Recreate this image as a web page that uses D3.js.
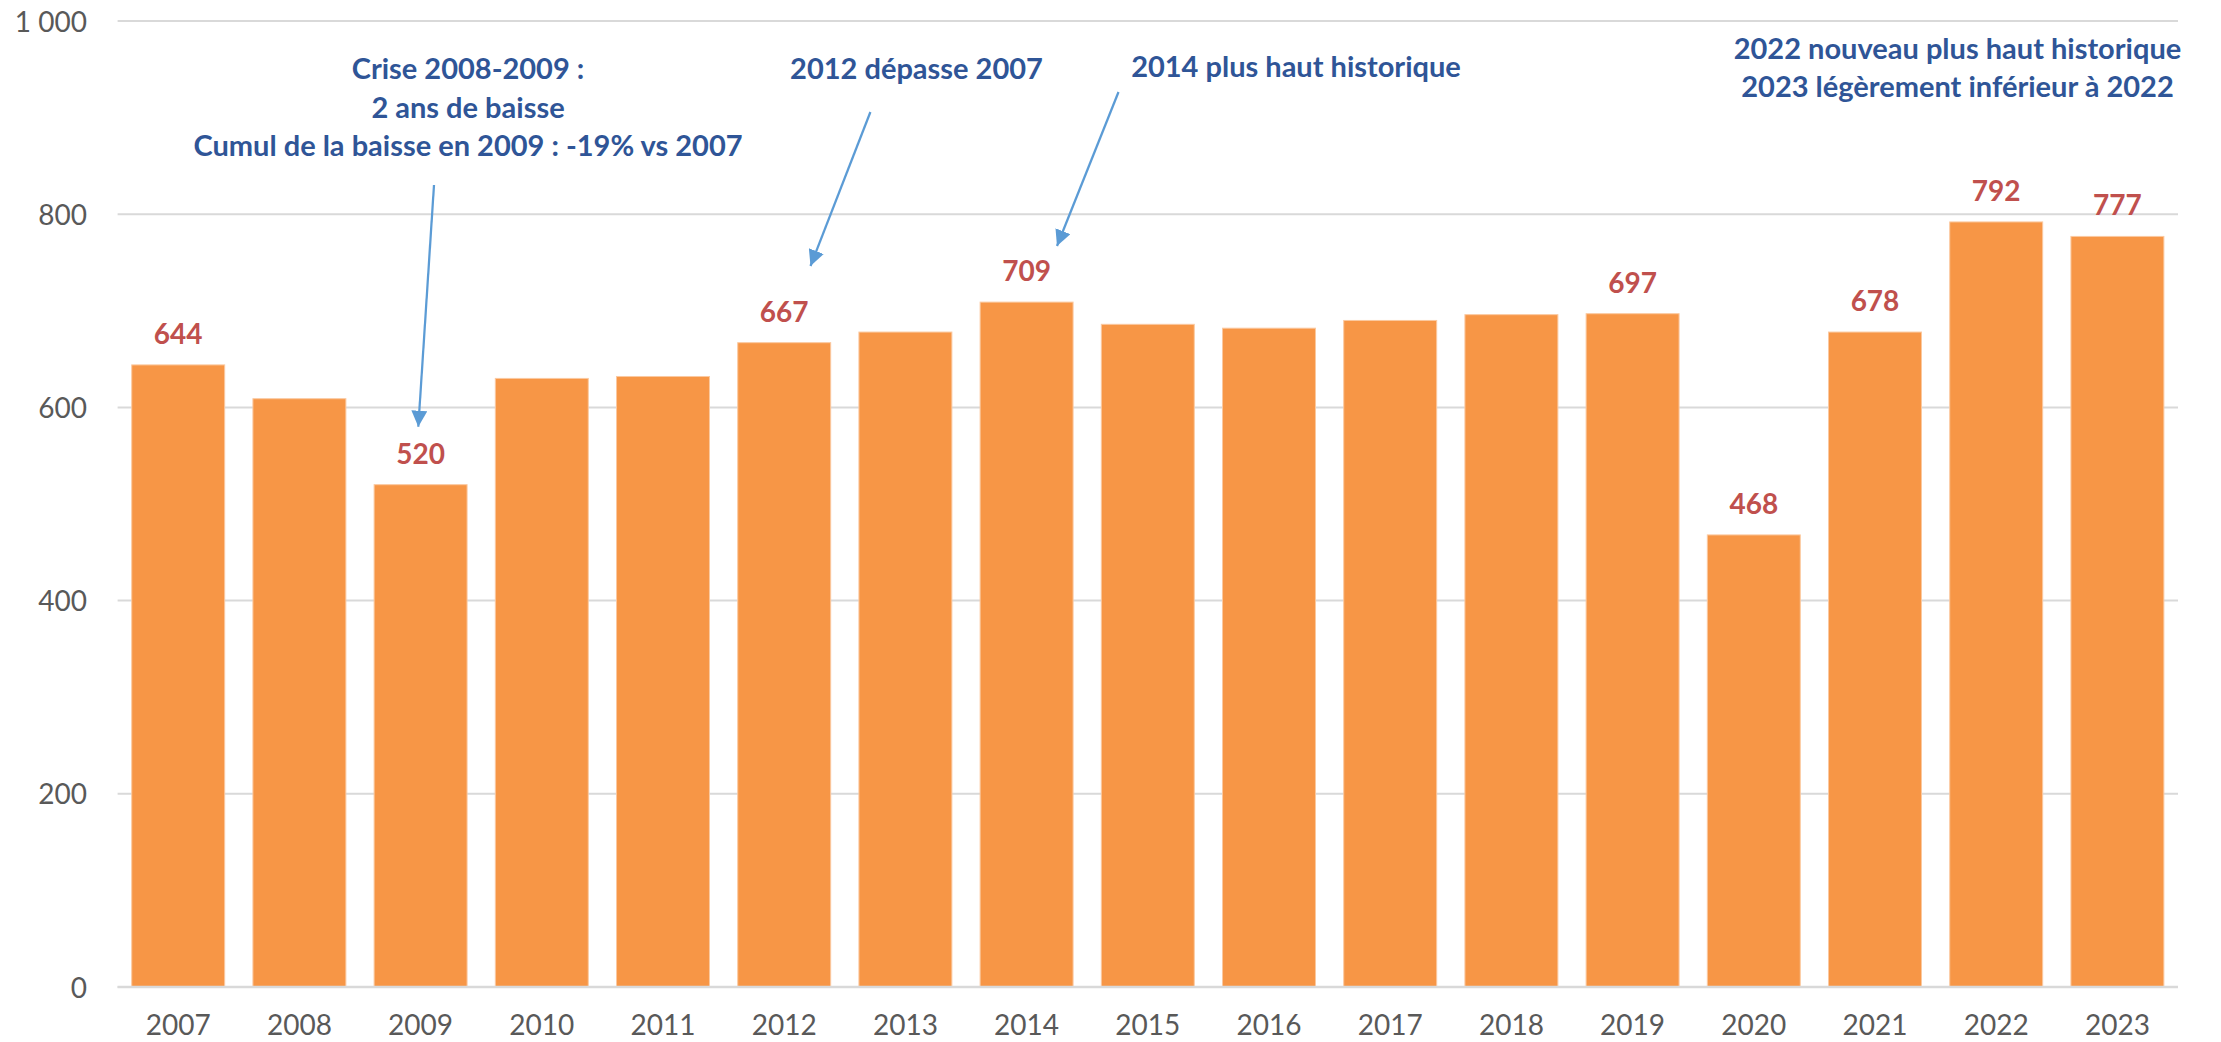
<!DOCTYPE html>
<html>
<head>
<meta charset="utf-8">
<script src="https://cdn.jsdelivr.net/npm/d3@7"></script>
<style>
  html, body { margin: 0; padding: 0; background: #fff; }
  svg { display: block; }
  text { font-family: Lato, Carlito, "Noto Sans", sans-serif; }
</style>
</head>
<body>
<svg id="chart" width="2221" height="1042"></svg>
<script>
// ---- Data ----
const years = ["2007","2008","2009","2010","2011","2012","2013","2014","2015","2016","2017","2018","2019","2020","2021","2022","2023"];
const values = [644, 609, 520, 630, 632, 667, 678, 709, 686, 682, 690, 696, 697, 468, 678, 792, 777];
const labelledYears = ["2007","2009","2012","2014","2019","2020","2021","2022","2023"];
const yTicks = [0, 200, 400, 600, 800, 1000];
const yTickLabels = ["0", "200", "400", "600", "800", "1 000"];

const noteCrise = ["Crise 2008-2009 :", "2 ans de baisse", "Cumul de la baisse en 2009 : -19% vs 2007"];
const note2012 = ["2012 dépasse 2007"];
const note2014 = ["2014 plus haut historique"];
const note2022 = ["2022 nouveau plus haut historique", "2023 légèrement inférieur à 2022"];

(function () {
// ---- Layout ----
const svg = d3.select("#chart");
const mLeft = 117.6, mRight = 2178, mTop = 21, mBottom = 987;

const x = d3.scaleBand().domain(years).range([mLeft, mRight]).paddingInner(0.233).paddingOuter(0.1165);
const y = d3.scaleLinear().domain([0, 1000]).range([mBottom, mTop]);

const colBar = "#F79646", colLabel = "#C0504D", colTick = "#595959",
      colGrid = "#D9D9D9", colNote = "#2F5597", colArrow = "#5B9BD5";

// gridlines
svg.append("g").selectAll("line").data(yTicks).join("line")
  .attr("x1", mLeft).attr("x2", mRight)
  .attr("y1", d => y(d)).attr("y2", d => y(d))
  .attr("stroke", colGrid).attr("stroke-width", 2);

// y axis labels
const yAxis = d3.axisLeft(y).tickValues(yTicks)
  .tickFormat((d, i) => yTickLabels[i]).tickSize(0).tickPadding(0);
const gy = svg.append("g").attr("transform", "translate(87,0)").call(yAxis);
gy.select(".domain").remove();
gy.selectAll("text").attr("fill", colTick).style("font-size", "28px")
  .style("font-family", "Lato, Carlito, sans-serif").attr("dy", "0.36em");

// bars
svg.append("g").selectAll("rect").data(values).join("rect")
  .attr("x", (d, i) => x(years[i]))
  .attr("width", x.bandwidth())
  .attr("y", d => y(d))
  .attr("height", d => y(0) - y(d))
  .attr("fill", colBar)
  .attr("stroke", "#FBC9A0").attr("stroke-width", 1);

// baseline
svg.append("line").attr("x1", mLeft).attr("x2", mRight)
  .attr("y1", y(0)).attr("y2", y(0))
  .attr("stroke", colGrid).attr("stroke-width", 2.5);

// x axis labels
const xAxis = d3.axisBottom(x).tickSize(0).tickPadding(0);
const gx = svg.append("g").attr("transform", "translate(0,1035)").call(xAxis);
gx.select(".domain").remove();
gx.selectAll("text").attr("fill", colTick).style("font-size", "28px")
  .style("font-family", "Lato, Carlito, sans-serif").attr("dy", "0").attr("y", 0);

// data labels
svg.append("g").selectAll("text")
  .data(values.map((v, i) => ({ v, yr: years[i] })).filter(d => labelledYears.includes(d.yr)))
  .join("text")
  .attr("x", d => x(d.yr) + x.bandwidth() / 2)
  .attr("y", d => y(d.v) - 21)
  .attr("text-anchor", "middle")
  .attr("fill", colLabel)
  .style("font-size", "28px").style("font-weight", "bold")
  .text(d => d.v);

// annotations
function note(lines, cx, baseline) {
  const t = svg.append("text").attr("text-anchor", "middle")
    .attr("fill", colNote).style("font-size", "29px").style("font-weight", "bold");
  lines.forEach((l, i) => t.append("tspan").attr("x", cx).attr("y", baseline + i * 38.5).text(l));
}
note(noteCrise, 468, 79);
note(note2012, 916.5, 78.5);
note(note2014, 1296, 77);
note(note2022, 1957.5, 58.5);

// arrows
const defs = svg.append("defs");
defs.append("marker").attr("id", "ah")
  .attr("markerUnits", "userSpaceOnUse")
  .attr("viewBox", "0 0 16 16").attr("refX", 16).attr("refY", 8)
  .attr("markerWidth", 16).attr("markerHeight", 16).attr("orient", "auto")
  .append("path").attr("d", "M0,0 L16,8 L0,16 Z").attr("fill", colArrow);

const arrows = [
  { x1: 434, y1: 185, x2: 418.3, y2: 426.7 },
  { x1: 870.4, y1: 112, x2: 810.5, y2: 266 },
  { x1: 1118.5, y1: 92, x2: 1057, y2: 246 }
];
svg.append("g").selectAll("line").data(arrows).join("line")
  .attr("x1", d => d.x1).attr("y1", d => d.y1)
  .attr("x2", d => d.x2).attr("y2", d => d.y2)
  .attr("stroke", colArrow).attr("stroke-width", 2.25)
  .attr("marker-end", "url(#ah)");
})();
</script>
</body>
</html>
